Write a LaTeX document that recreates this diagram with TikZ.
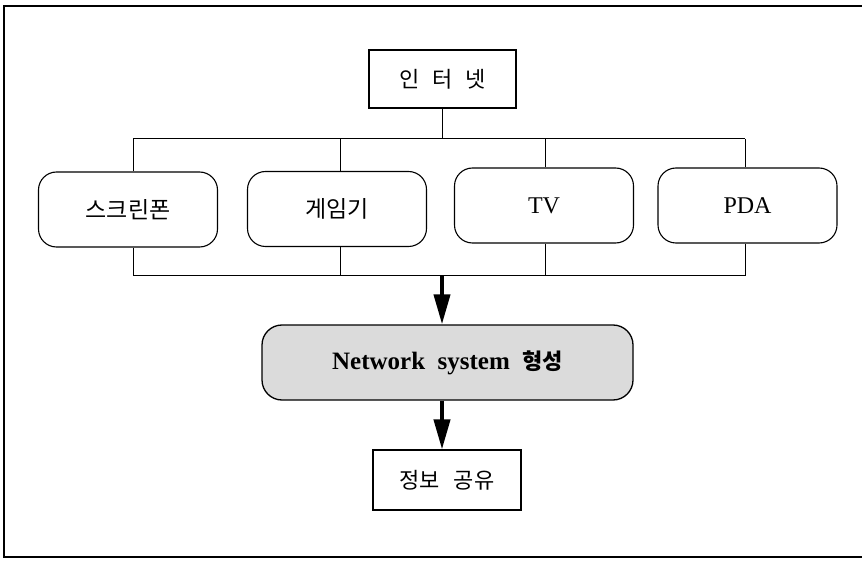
\documentclass[tikz,border=0pt]{standalone}
\usepackage{fontspec}
\setmainfont{Liberation Serif}
\newfontfamily\kr{Noto Sans CJK KR}
\usetikzlibrary{arrows.meta}
\begin{document}
\begin{tikzpicture}[x=1pt,y=-1pt,
  plainbox/.style={draw,line width=1.1pt,inner sep=0pt,font=\kr\fontsize{22}{26}\selectfont},
  device/.style={draw,line width=1.1pt,rounded corners=18pt,inner sep=0pt,
    minimum width=179pt,minimum height=75pt,font=\fontsize{24}{28}\selectfont},
  hangul/.style={font=\kr\fontsize{23}{27}\selectfont},
  wire/.style={line width=1pt},
  bigarrow/.style={line width=4pt,-{Triangle[width=16pt,length=30pt]}}]
\useasboundingbox (0,0) rectangle (862,561);
% outer frame (open at the right)
\draw[line width=1.4pt] (862,6) -- (4,6) -- (4,557) -- (862,557);

% nodes
\node[plainbox,minimum width=147pt,minimum height=58pt] (net) at (442.5,79)
  {인\hspace{13pt}터\hspace{13pt}넷};
\node[device,hangul] (scr)  at (128,209.5) {스크린폰};
\node[device,hangul] (game) at (337,209)   {게임기};
\node[device] (tv)   at (544,205.5) {TV};
\node[device] (pda)  at (747.5,205.5) {PDA};
\node[draw,line width=1.3pt,rounded corners=20pt,fill=black!14,inner sep=0pt,
  minimum width=371pt,minimum height=75pt,
  font=\bfseries\fontsize{25}{29}\selectfont] (nsys) at (447.5,362.5)
  {Network\ \ system\ \ {\kr\fontsize{22}{26}\selectfont 형성}};
\node[plainbox,minimum width=148pt,minimum height=60pt] (info) at (447,480)
  {정보\hspace{14pt}공유};

% upper distribution bus
\coordinate (t1) at (133,139);
\coordinate (t2) at (340,139);
\coordinate (t3) at (545,139);
\coordinate (t4) at (745,139);
\draw[wire] (net.south) -- (net.south |- t1);
\draw[wire] (t1) -- (t4);
\draw[wire] (t1) -- (t1 |- scr.north);
\draw[wire] (t2) -- (t2 |- game.north);
\draw[wire] (t3) -- (t3 |- tv.north);
\draw[wire] (t4) -- (t4 |- pda.north);

% lower collecting bus
\coordinate (b1) at (133,276);
\coordinate (b2) at (340,276);
\coordinate (b3) at (545,276);
\coordinate (b4) at (745,276);
\draw[wire] (b1) -- (b4);
\draw[wire] (b1 |- scr.south) -- (b1);
\draw[wire] (b2 |- game.south) -- (b2);
\draw[wire] (b3 |- tv.south) -- (b3);
\draw[wire] (b4 |- pda.south) -- (b4);

% flow arrows
\coordinate (bm) at (442,276);
\draw[bigarrow] (bm) -- (bm |- nsys.north);
\draw[bigarrow] (bm |- nsys.south) -- (bm |- info.north);
\end{tikzpicture}
\end{document}
